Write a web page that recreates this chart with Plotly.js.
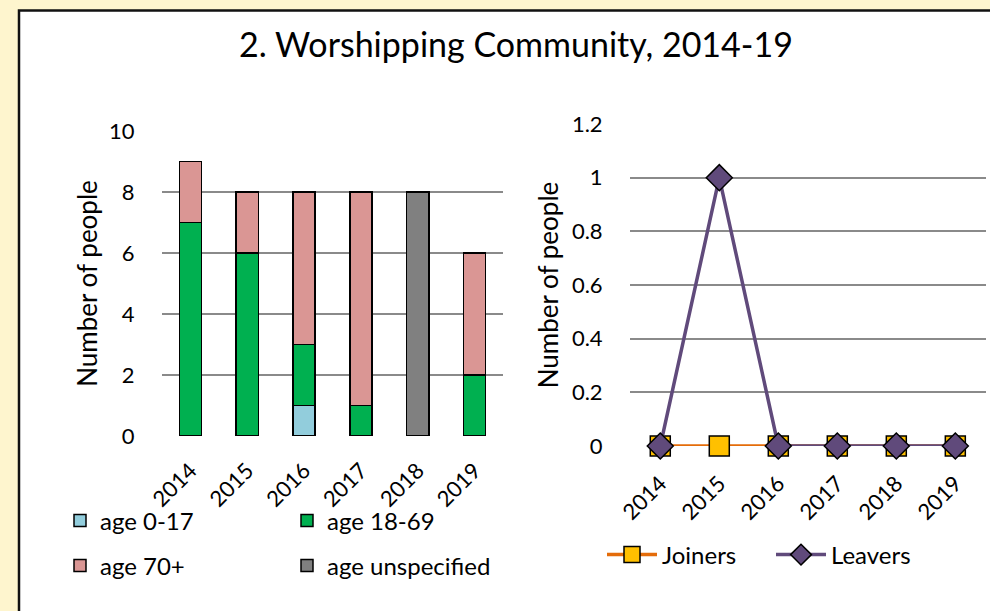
<!DOCTYPE html>
<html>
<head>
<meta charset="utf-8">
<script src="https://cdn.plot.ly/plotly-3.0.1.min.js"></script>
<style>html,body{margin:0;padding:0;background:#FEF5CE;}#chart{width:990px;height:611px;}</style>
</head>
<body>
<div id="chart"></div>
<script>
const years = ['2014', '2015', '2016', '2017', '2018', '2019'];
const age0to17 = [0, 0, 1, 0, 0, 0];
const age18to69 = [7, 6, 2, 1, 0, 2];
const age70plus = [2, 2, 5, 7, 0, 4];
const ageUnspecified = [0, 0, 0, 0, 8, 0];
const joiners = [0, 0, 0, 0, 0, 0];
const leavers = [0, 1, 0, 0, 0, 0];

const FONT = 'Lato, "Open Sans", sans-serif';
const W = 990, H = 611;
const px = v => v / W;
const py = v => 1 - v / H;

const barLine = {color: '#000', width: 1.5};
const traces = [
  {type: 'bar', name: 'age 0-17', x: years, y: age0to17, marker: {color: '#92CDDC', line: barLine}, xaxis: 'x', yaxis: 'y', legend: 'legend'},
  {type: 'bar', name: 'age 18-69', x: years, y: age18to69, marker: {color: '#00B050', line: barLine}, xaxis: 'x', yaxis: 'y', legend: 'legend'},
  {type: 'bar', name: 'age 70+', x: years, y: age70plus, marker: {color: '#DA9694', line: barLine}, xaxis: 'x', yaxis: 'y', legend: 'legend2'},
  {type: 'bar', name: 'age unspecified', x: years, y: ageUnspecified, marker: {color: '#808080', line: barLine}, xaxis: 'x', yaxis: 'y', legend: 'legend2'},
  {type: 'scatter', mode: 'lines+markers', name: 'Joiners', x: years, y: joiners, xaxis: 'x2', yaxis: 'y2', legend: 'legend3',
   line: {color: '#E46C0A', width: 3.5}, marker: {symbol: 'square', size: 20, color: '#FFC000', line: {color: '#000', width: 1.5}}, cliponaxis: false},
  {type: 'scatter', mode: 'lines+markers', name: 'Leavers', x: years, y: leavers, xaxis: 'x2', yaxis: 'y2', legend: 'legend3',
   line: {color: '#604A7B', width: 3.5}, marker: {symbol: 'diamond', size: 20, color: '#604A7B', line: {color: '#000', width: 1.5}}, cliponaxis: false}
];

const tickFont = {family: FONT, size: 22, color: '#000'};
const gridColor = '#8A8A8A';
const legendBase = {orientation: 'h', font: {family: FONT, size: 24, color: '#000'}, bgcolor: 'rgba(0,0,0,0)', xanchor: 'left', yanchor: 'middle', traceorder: 'normal'};

const layout = {
  width: W, height: H,
  paper_bgcolor: '#FEF5CE',
  plot_bgcolor: 'rgba(0,0,0,0)',
  margin: {l: 0, r: 0, t: 0, b: 0},
  font: {family: FONT, color: '#000'},
  barmode: 'stack',
  bargap: 0.61,
  showlegend: true,
  title: {text: '2. Worshipping Community, 2014-19', font: {family: FONT, size: 34, color: '#000'}, x: px(516), xanchor: 'center', y: py(45), yanchor: 'middle'},
  xaxis: {domain: [px(162), px(503)], type: 'category', tickangle: -45, tickfont: tickFont, showgrid: false, showline: false, zeroline: false, automargin: false,
          ticks: 'outside', ticklen: 12, tickcolor: 'rgba(0,0,0,0)'},
  yaxis: {domain: [py(436), py(131)], range: [0, 10], dtick: 2, tickfont: tickFont, showgrid: true, gridcolor: gridColor, gridwidth: 2, zeroline: false, showline: false,
          ticks: 'outside', ticklen: 22, tickcolor: 'rgba(0,0,0,0)', automargin: false,
          title: {text: 'Number of people', font: {family: FONT, size: 26, color: '#000'}, standoff: 3}},
  xaxis2: {domain: [px(630), px(985.6)], type: 'category', tickangle: -45, tickfont: tickFont, showgrid: false, showline: false, zeroline: false, automargin: false, anchor: 'y2',
           ticks: 'outside', ticklen: 15, tickcolor: 'rgba(0,0,0,0)'},
  yaxis2: {domain: [py(446), py(124)], range: [0, 1.2], dtick: 0.2, tickfont: tickFont, showgrid: true, gridcolor: gridColor, gridwidth: 2, zeroline: false, showline: false,
           ticks: 'outside', ticklen: 22, tickcolor: 'rgba(0,0,0,0)', automargin: false, anchor: 'x2',
           title: {text: 'Number of people', font: {family: FONT, size: 26, color: '#000'}, standoff: 5}},
  legend: Object.assign({}, legendBase, {x: px(60), y: py(521), entrywidth: 182}),
  legend2: Object.assign({}, legendBase, {x: px(60), y: py(566), entrywidth: 182}),
  legend3: Object.assign({}, legendBase, {x: px(602), y: py(555), itemwidth: 50, entrywidth: 104}),
  shapes: [
    {type: 'rect', xref: 'paper', yref: 'paper', x0: px(19), x1: 1.05, y0: -0.05, y1: py(10.5), fillcolor: '#FFFFFF', line: {color: '#111', width: 2.5}, layer: 'below'}
  ]
};

Plotly.newPlot('chart', traces, layout, {displayModeBar: false, staticPlot: true});
</script>
</body>
</html>
